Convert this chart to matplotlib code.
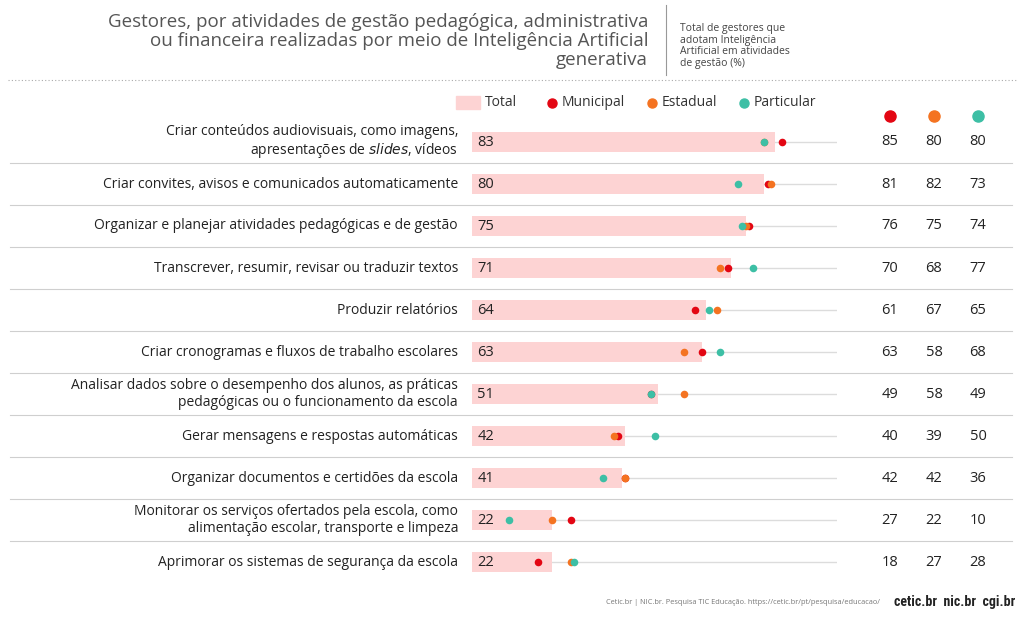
import matplotlib
matplotlib.use("Agg")
import matplotlib.pyplot as plt

categories = [
    "Criar conteúdos audiovisuais, como imagens,\napresentações de $\\it{slides}$, vídeos",
    "Criar convites, avisos e comunicados automaticamente",
    "Organizar e planejar atividades pedagógicas e de gestão",
    "Transcrever, resumir, revisar ou traduzir textos",
    "Produzir relatórios",
    "Criar cronogramas e fluxos de trabalho escolares",
    "Analisar dados sobre o desempenho dos alunos, as práticas\npedagógicas ou o funcionamento da escola",
    "Gerar mensagens e respostas automáticas",
    "Organizar documentos e certidões da escola",
    "Monitorar os serviços ofertados pela escola, como\nalimentação escolar, transporte e limpeza",
    "Aprimorar os sistemas de segurança da escola",
]
total = [83, 80, 75, 71, 64, 63, 51, 42, 41, 22, 22]
municipal = [85, 81, 76, 70, 61, 63, 49, 40, 42, 27, 18]
estadual = [80, 82, 75, 68, 67, 58, 58, 39, 42, 22, 27]
particular = [80, 73, 74, 77, 65, 68, 49, 50, 36, 10, 28]

C_BAR = "#fdd3d3"; C_M = "#e30613"; C_E = "#f47321"; C_P = "#3dbfa5"
W, H = 1024, 617
fig = plt.figure(figsize=(W/100, H/100), dpi=100)
plt.rcParams['font.family'] = ['Open Sans', 'DejaVu Sans']

def fx(x): return x / W
def fy(y): return 1 - y / H

top, bot = 121, 583
ax = fig.add_axes([fx(472), fy(bot), 365/W, (bot-top)/H])
ax.set_xlim(0, 100); ax.set_ylim(10.5, -0.5); ax.axis("off")
n = len(categories)
for i in range(n):
    ax.plot([0, 100], [i, i], color="#dcdcdc", lw=1, zorder=1)
ax.barh(range(n), total, height=0.48, color=C_BAR, zorder=2)
ax.scatter(municipal, range(n), s=30, color=C_M, zorder=3, lw=0)
ax.scatter(estadual, range(n), s=30, color=C_E, zorder=4, lw=0)
ax.scatter(particular, range(n), s=30, color=C_P, zorder=5, lw=0)
for i, v in enumerate(total):
    ax.text(1.5, i, str(v), va="center", ha="left", fontsize=10.5, color="#222", zorder=6)

for i, c in enumerate(categories):
    y = 142 + 42*i
    fig.text(fx(458), fy(y), c, ha="right", va="center", fontsize=10, color="#222",
             linespacing=1.15)
    for xx, vals in zip([890, 934, 978], [municipal, estadual, particular]):
        fig.text(fx(xx), fy(y), str(vals[i]), ha="center", va="center", fontsize=10.5, color="#222")
    if i < n - 1:
        fig.add_artist(plt.Line2D([fx(10), fx(1012)], [fy(y+21), fy(y+21)], color="#cfcfcf", lw=0.8))

fig.add_artist(plt.Rectangle((fx(456), fy(109)), 24/W, 13/H, color=C_BAR))
fig.text(fx(485), fy(103), "Total", va="center", fontsize=10, color="#333")
for x, c, lab in [(552, C_M, "Municipal"), (652, C_E, "Estadual"), (744, C_P, "Particular")]:
    fig.add_artist(plt.Line2D([fx(x)], [fy(103)], marker="o", ms=6.5, color=c, lw=0))
    fig.text(fx(x+10), fy(103), lab, va="center", fontsize=10, color="#333")
for x, c in [(890, C_M), (934, C_E), (978, C_P)]:
    fig.add_artist(plt.Line2D([fx(x)], [fy(116)], marker="o", ms=8, color=c, lw=0))

fig.text(fx(648), fy(41), "Gestores, por atividades de gestão pedagógica, administrativa\nou financeira realizadas por meio de Inteligência Artificial\ngenerativa",
         ha="right", va="center", fontsize=13.5, color="#555", linespacing=1.05)
fig.add_artist(plt.Line2D([fx(666), fx(666)], [fy(5), fy(75)], color="#999", lw=0.8))
fig.text(fx(680), fy(46), "Total de gestores que\nadotam Inteligência\nArtificial em atividades\nde gestão (%)",
         ha="left", va="center", fontsize=7.5, color="#444", linespacing=1.1)
fig.add_artist(plt.Line2D([fx(8), fx(1016)], [fy(80), fy(80)], color="#aaa", lw=0.8, ls=(0, (1, 2))))

fig.text(fx(880), fy(603), "Cetic.br | NIC.br. Pesquisa TIC Educação. https://cetic.br/pt/pesquisa/educacao/",
         ha="right", va="center", fontsize=5.3, color="#777")
fig.text(fx(1015), fy(602), "cetic.br  nic.br  cgi.br", ha="right", va="center",
         fontsize=10, fontweight="bold", color="#222", family=["Roboto Condensed", "Roboto", "DejaVu Sans"])

fig.savefig("out.png", dpi=100, facecolor="white")
